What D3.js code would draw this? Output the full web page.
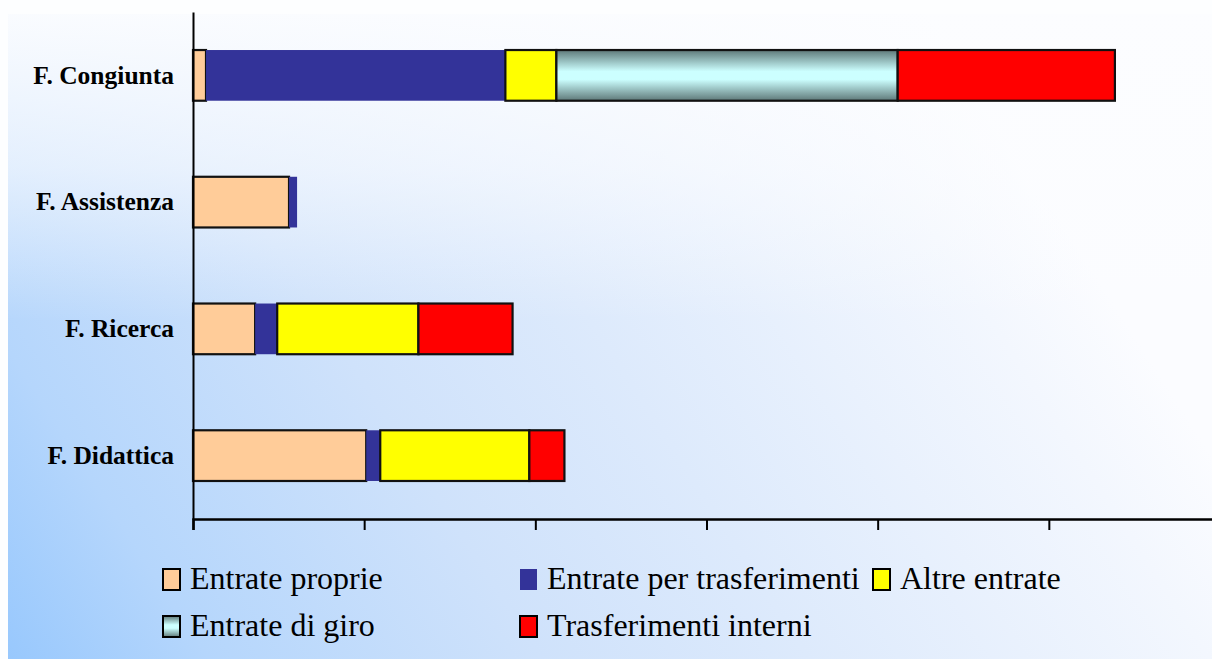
<!DOCTYPE html>
<html>
<head>
<meta charset="utf-8">
<script src="https://cdn.jsdelivr.net/npm/d3@7"></script>
<style>
  html, body { margin: 0; padding: 0; background: #ffffff; }
  svg { display: block; }
  .serif { font-family: "Liberation Serif", Tinos, "Times New Roman", "DejaVu Serif", serif; }
</style>
</head>
<body>
<svg id="chart" width="1212" height="659"></svg>
<script>
// ---- data ----
const categories = ["F. Congiunta", "F. Assistenza", "F. Ricerca", "F. Didattica"];
const seriesKeys = ["Entrate proprie", "Entrate per trasferimenti", "Altre entrate", "Entrate di giro", "Trasferimenti interni"];
const entrateProprie        = [76, 561, 363, 1012];
const entrateTrasferimenti  = [1749, 47, 129, 82];
const altreEntrate          = [298, 0, 825, 871];
const entrateGiro           = [1994, 0, 0, 0];
const trasferimentiInterni  = [1269, 0, 550, 205];
const xTicks = [0, 1000, 2000, 3000, 4000, 5000, 6000];

const seriesValues = [entrateProprie, entrateTrasferimenti, altreEntrate, entrateGiro, trasferimentiInterni];
const rows = categories.map((c, i) => {
  const r = { cat: c };
  seriesKeys.forEach((k, j) => r[k] = seriesValues[j][i]);
  return r;
});

const fills = {
  "Entrate proprie": "#FFCC99",
  "Entrate per trasferimenti": "#333399",
  "Altre entrate": "#FFFF00",
  "Entrate di giro": "url(#giroGrad)",
  "Trasferimenti interni": "#FF0000"
};
const strokes = {
  "Entrate proprie": "#111",
  "Entrate per trasferimenti": "none",
  "Altre entrate": "#111",
  "Entrate di giro": "#111",
  "Trasferimenti interni": "#111"
};

const svg = d3.select("#chart");
const defs = svg.append("defs");

// background gradient (diagonal)
const bg = defs.append("linearGradient").attr("id", "bgGrad")
  .attr("gradientUnits", "userSpaceOnUse")
  .attr("x1", 8).attr("y1", 659).attr("x2", 950).attr("y2", 50);
[[0, "#98C8FD"], [0.15, "#B5D6FC"], [0.4, "#CFE2FB"], [0.6, "#DDEAFC"], [0.9, "#F3F7FE"], [1, "#FBFCFF"]]
  .forEach(([o, c]) => bg.append("stop").attr("offset", o).attr("stop-color", c));

// white fade at top
const topFade = defs.append("linearGradient").attr("id", "topFade")
  .attr("gradientUnits", "userSpaceOnUse")
  .attr("x1", 0).attr("y1", 14).attr("x2", 0).attr("y2", 320);
topFade.append("stop").attr("offset", 0).attr("stop-color", "#FCFDFF").attr("stop-opacity", 0.95);
topFade.append("stop").attr("offset", 0.5).attr("stop-color", "#FCFDFF").attr("stop-opacity", 0.6);
topFade.append("stop").attr("offset", 1).attr("stop-color", "#FCFDFF").attr("stop-opacity", 0);

// giro gradient (vertical)
const gg = defs.append("linearGradient").attr("id", "giroGrad")
  .attr("x1", "0").attr("y1", "0").attr("x2", "0").attr("y2", "1");
gg.append("stop").attr("offset", "0").attr("stop-color", "#5E7979");
gg.append("stop").attr("offset", "0.42").attr("stop-color", "#CCFFFF");
gg.append("stop").attr("offset", "0.58").attr("stop-color", "#CCFFFF");
gg.append("stop").attr("offset", "1").attr("stop-color", "#5E7979");

svg.append("rect").attr("x", 0).attr("y", 0).attr("width", 1212).attr("height", 659).attr("fill", "#FDFEFF");
svg.append("rect").attr("x", 8).attr("y", 14).attr("width", 1204).attr("height", 645).attr("fill", "url(#bgGrad)");
svg.append("rect").attr("x", 8).attr("y", 14).attr("width", 1204).attr("height", 320).attr("fill", "url(#topFade)");

// scales
const x = d3.scaleLinear().domain([0, 6000]).range([193, 1220]);
const y = d3.scaleBand().domain(categories).range([12, 519]).paddingInner(0.6).paddingOuter(0.3);

const stack = d3.stack().keys(seriesKeys);
const stacked = stack(rows);

const gBars = svg.append("g");
stacked.forEach(layer => {
  const key = layer.key;
  gBars.append("g").selectAll("rect")
    .data(layer.filter(d => d[1] - d[0] > 0))
    .join("rect")
    .attr("x", d => x(d[0]))
    .attr("y", d => y(d.data.cat))
    .attr("width", d => x(d[1]) - x(d[0]))
    .attr("height", y.bandwidth())
    .attr("fill", fills[key])
    .attr("stroke", strokes[key])
    .attr("stroke-width", 2.2);
});

// axes
const xAxis = d3.axisBottom(x).tickValues(xTicks).tickSize(11).tickFormat("");
const gx = svg.append("g").attr("transform", "translate(0,519)").call(xAxis);
gx.select(".domain").attr("stroke", "#000").attr("stroke-width", 2.5);
gx.selectAll(".tick line").attr("stroke", "#000").attr("stroke-width", 2);

const yAxis = d3.axisLeft(y).tickSize(0).tickPadding(19);
const gy = svg.append("g").attr("transform", "translate(193,0)").call(yAxis);
gy.attr("font-family", null);
gy.select(".domain").attr("stroke", "#000").attr("stroke-width", 2);
gy.selectAll(".tick text")
  .attr("class", "serif")
  .attr("font-weight", "bold")
  .attr("font-size", 25.5)
  .attr("fill", "#000");

// legend
const legendPos = [
  { x: 163, y: 569 }, { x: 520, y: 569 }, { x: 873, y: 569 },
  { x: 163, y: 616 }, { x: 520, y: 616 }
];
const legend = svg.append("g");
seriesKeys.forEach((k, i) => {
  const p = legendPos[i];
  const g = legend.append("g").attr("transform", `translate(${p.x},${p.y})`);
  g.append("rect").attr("x", 0).attr("y", 0).attr("width", 17).attr("height", 21)
    .attr("fill", fills[k])
    .attr("stroke", strokes[k] === "none" ? "none" : "#000")
    .attr("stroke-width", 2);
  g.append("text").attr("x", 27).attr("y", 20)
    .attr("class", "serif")
    .attr("font-size", 32)
    .attr("fill", "#000")
    .text(k);
});
</script>
</body>
</html>
